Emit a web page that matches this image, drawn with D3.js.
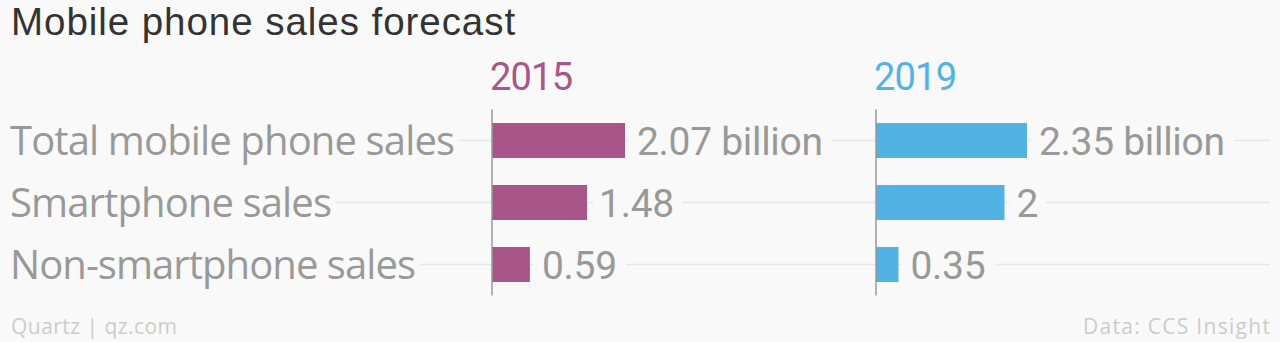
<!DOCTYPE html>
<html>
<head>
<meta charset="utf-8">
<script src="https://cdn.jsdelivr.net/npm/d3@7"></script>
<style>
  html, body { margin: 0; padding: 0; background: #f9f9f9; }
  svg { display: block; }
</style>
</head>
<body>
<svg id="chart" width="1280" height="342"></svg>
<script>
const categories = ["Total mobile phone sales", "Smartphone sales", "Non-smartphone sales"];
const years = ["2015", "2019"];
const values2015 = [2.07, 1.48, 0.59];
const values2019 = [2.35, 2, 0.35];
const labels2015 = ["2.07 billion", "1.48", "0.59"];
const labels2019 = ["2.35 billion", "2", "0.35"];
const colors = ["#a8568a", "#52b2e4"];

const W = 1280, H = 342, bg = "#f9f9f9";
const svg = d3.select("#chart");
svg.append("rect").attr("width", W).attr("height", H).attr("fill", bg);

// adjust a text's letter spacing so that it covers a target width
function fit(sel, target) {
  sel.each(function () {
    const n = this.getNumberOfChars();
    const w = this.getComputedTextLength();
    if (n > 1) d3.select(this).attr("letter-spacing", ((target - w) / (n - 1)).toFixed(2));
  });
}

const panelX = [492, 876];
const x = d3.scaleLinear().domain([0, 2.35]).range([0, 151]);
const y = d3.scaleBand().domain(categories).range([109.5, 295.5])
  .paddingInner(27 / 62).paddingOuter(13.5 / 62);

// gridlines
svg.append("g").selectAll("line").data(categories).join("line")
  .attr("x1", 10).attr("x2", 1270)
  .attr("y1", d => y(d) + y.bandwidth() / 2).attr("y2", d => y(d) + y.bandwidth() / 2)
  .attr("stroke", "#e8e8e8").attr("stroke-width", 1.5);

const series = [values2015, values2019];
const labels = [labels2015, labels2019];

series.forEach((vals, i) => {
  const g = svg.append("g").attr("transform", `translate(${panelX[i]},0)`);
  g.selectAll("rect").data(vals).join("rect")
    .attr("x", 0).attr("y", (d, j) => y(categories[j]))
    .attr("width", d => x(d)).attr("height", y.bandwidth())
    .attr("fill", colors[i]);
  g.append("line").attr("x1", 0).attr("x2", 0)
    .attr("y1", y.range()[0]).attr("y2", y.range()[1])
    .attr("stroke", "#999").attr("stroke-width", 1.5);
  g.selectAll("text.val").data(vals).join("text").attr("class", "val")
    .attr("x", d => x(d) + 12)
    .attr("y", (d, j) => y(categories[j]) + y.bandwidth() / 2 + 14)
    .attr("font-family", "Roboto, sans-serif").attr("font-size", 39)
    .attr("letter-spacing", -0.3)
    .attr("fill", "#999")
    .attr("stroke", bg).attr("stroke-width", 22).attr("paint-order", "stroke")
    .attr("stroke-linejoin", "round")
    .text((d, j) => labels[i][j]);
  g.append("text").attr("x", -2).attr("y", 90)
    .attr("font-family", "Roboto, sans-serif").attr("font-size", 38)
    .attr("letter-spacing", -0.8)
    .attr("fill", colors[i]).text(years[i]);
});

// category labels
const targets = [445, 322, 406];
svg.append("g").selectAll("text").data(categories).join("text")
  .attr("x", 10).attr("y", d => y(d) + y.bandwidth() / 2 + 14)
  .attr("font-family", "'Open Sans', sans-serif").attr("font-size", 40)
  .attr("fill", "#999")
  .attr("stroke", bg).attr("stroke-width", 16).attr("paint-order", "stroke")
  .attr("stroke-linejoin", "round")
  .text(d => d)
  .call(sel => sel.each(function (d, j) { fit(d3.select(this), targets[j]); }));

// title
svg.append("text").attr("x", 11).attr("y", 35)
  .attr("font-family", "'Liberation Sans', Arial, sans-serif").attr("font-size", 38.5)
  .attr("fill", "#333").text("Mobile phone sales forecast")
  .call(fit, 504);

// footer
svg.append("text").attr("x", 11).attr("y", 334)
  .attr("font-family", "'Open Sans', sans-serif").attr("font-size", 21)
  .attr("fill", "#cccccc").text("Quartz | qz.com")
  .call(fit, 166);
svg.append("text").attr("x", 1083).attr("y", 334)
  .attr("font-family", "'Open Sans', sans-serif").attr("font-size", 21)
  .attr("fill", "#cccccc").text("Data: CCS Insight")
  .call(fit, 187);
</script>
</body>
</html>
